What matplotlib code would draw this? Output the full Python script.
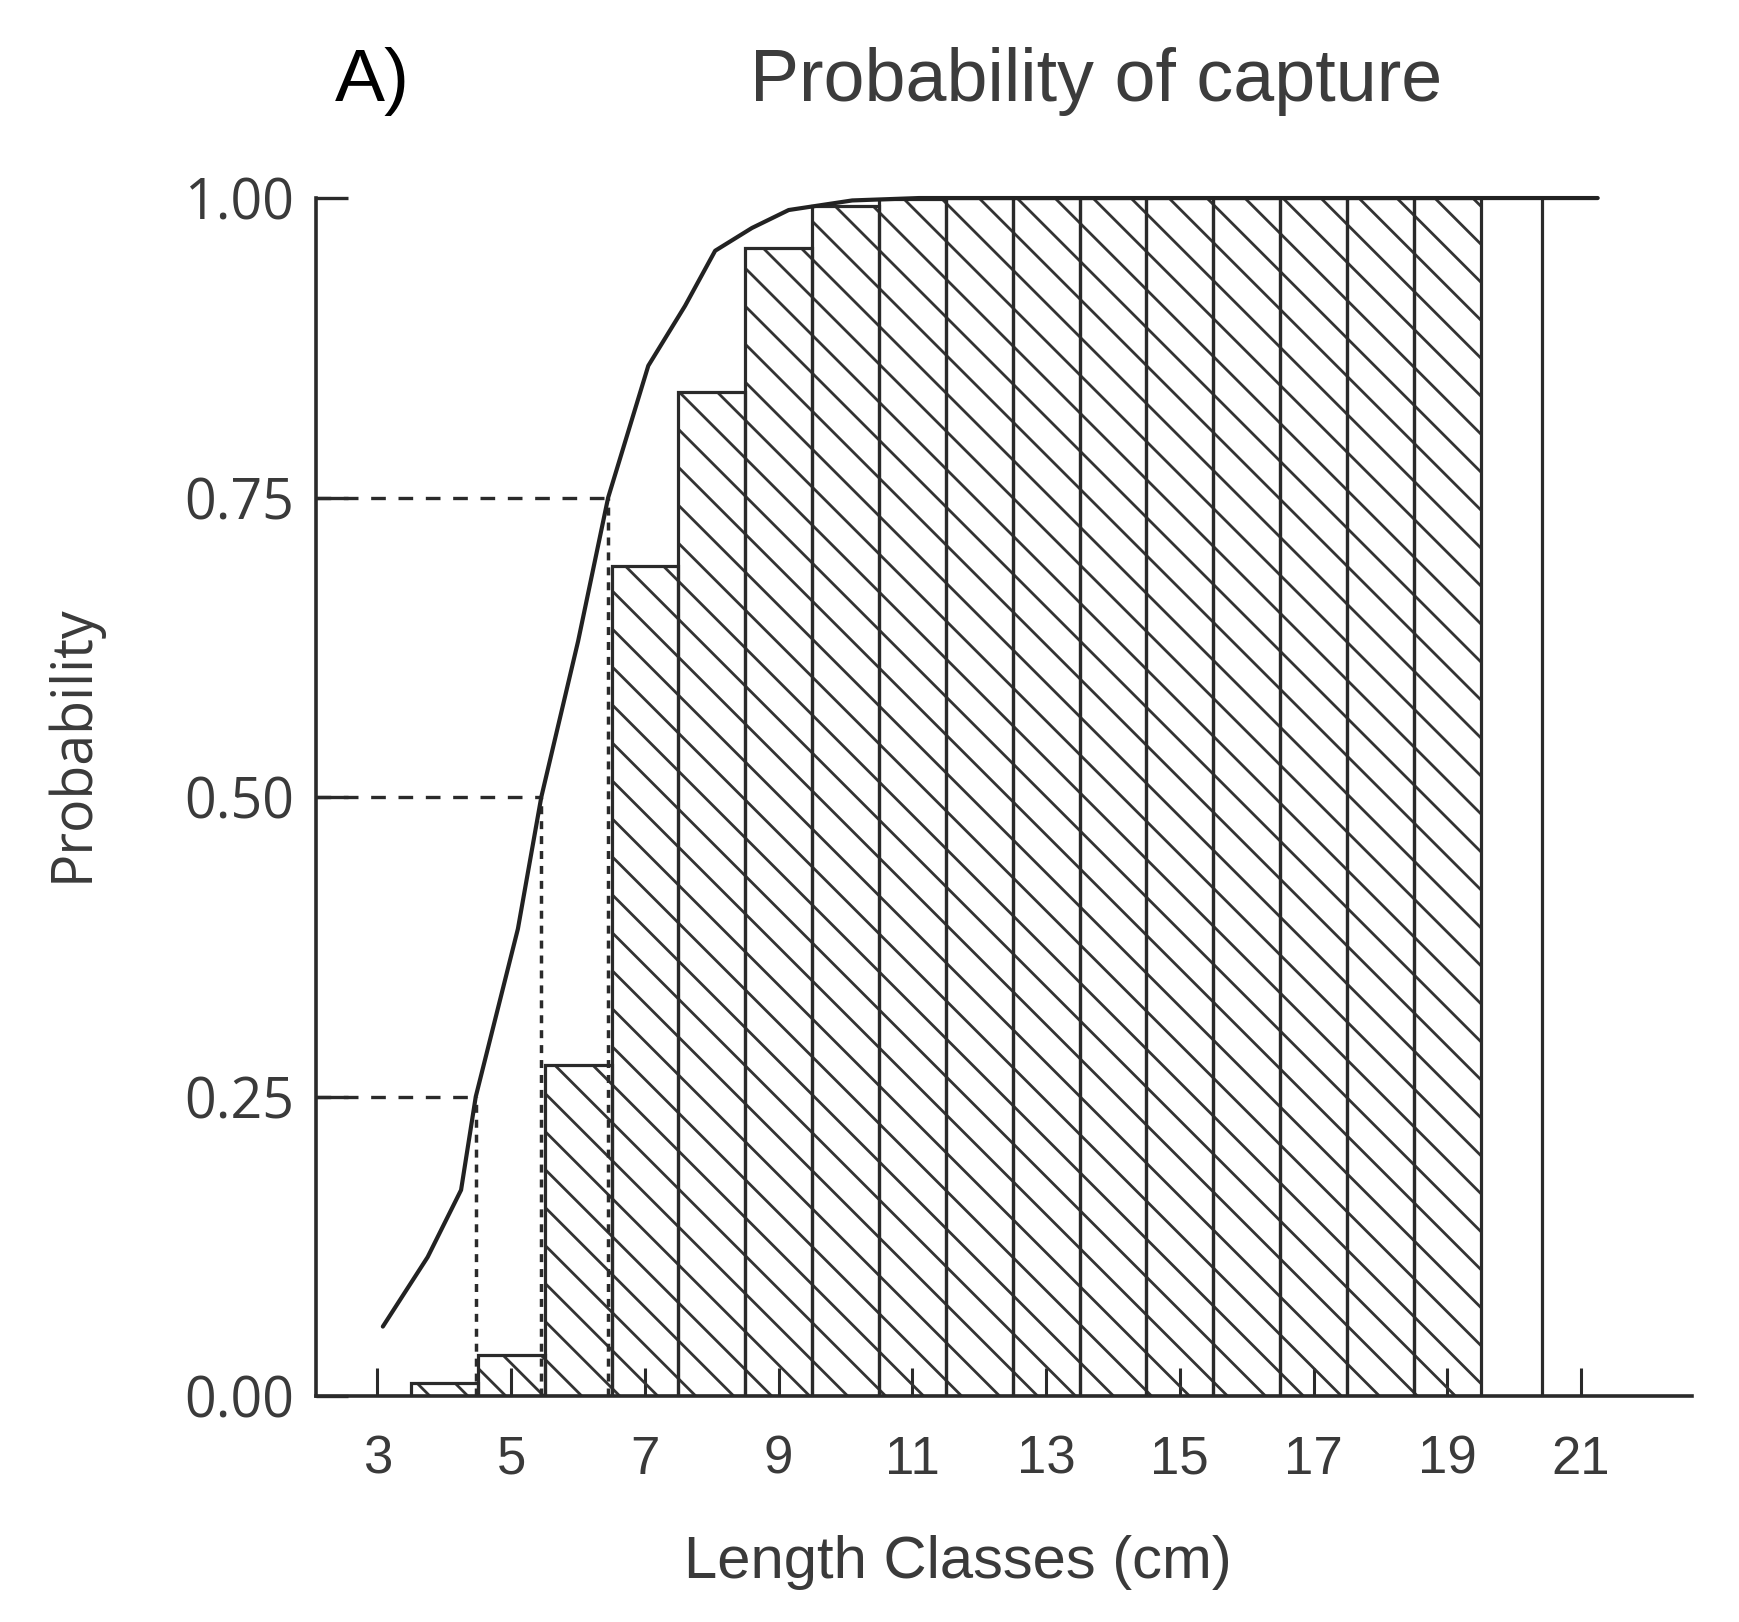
import numpy as np
import matplotlib.pyplot as plt
from matplotlib.collections import LineCollection

# values
length_classes = [4, 5, 6, 7, 8, 9, 10, 11, 12, 13, 14, 15, 16, 17, 18, 19]
observed_prob = [0.011, 0.034, 0.276, 0.693, 0.838, 0.958, 0.993, 0.999,
                 1.0, 1.0, 1.0, 1.0, 1.0, 1.0, 1.0, 1.0]

# fitted selection curve
curve_x = [3.08, 3.75, 4.25, 4.47, 5.1, 5.45, 6.0, 6.45, 7.05, 7.6, 8.05,
           8.6, 9.15, 10.1, 11.1, 21.25]
curve_y = [0.058, 0.116, 0.172, 0.25, 0.39, 0.50, 0.63, 0.75, 0.86, 0.91,
           0.956, 0.975, 0.99, 0.998, 1.0, 1.0]

# L25, L50, L75
ref_levels = [0.25, 0.50, 0.75]
ref_lengths = [4.47, 5.45, 6.45]

# last (open) class, only its right edge is drawn
open_class_edge = 20.42

xticks = [3, 5, 7, 9, 11, 13, 15, 17, 19, 21]
yticks = [0.0, 0.25, 0.50, 0.75, 1.0]
ytick_labels = ["0.00", "0.25", "0.50", "0.75", "1.00"]

line_col = "#2a2a2a"
text_col = "#3a3a3a"

plt.rcParams["font.family"] = ["Liberation Sans", "DejaVu Sans"]

fig = plt.figure(figsize=(17.4, 16.22), dpi=100)
ax = fig.add_axes([0.1816, 0.1393, 0.7908, 0.7386])
x0, x1 = 2.08, 22.66
ax.set_xlim(x0, x1)
ax.set_ylim(0, 1)

# bars (outline only, hatch drawn by hand so the angle matches)
bars = ax.bar(length_classes, observed_prob, width=1.0, facecolor="none",
              edgecolor=line_col, linewidth=2.3, zorder=3)

# 45 degree hatch in screen space
slope = -0.0558
offsets = np.arange(0.0, 2.2, 0.0317)
segs = [[(x0, c), (x1, c + slope * (x1 - x0))] for c in offsets]
for b in bars:
    lc = LineCollection(segs, colors="#333333", linewidths=2.0, zorder=2)
    ax.add_collection(lc)
    lc.set_clip_path(b)

ax.vlines(open_class_edge, 0, 1, color=line_col, linewidth=2.3, zorder=3)

# reference lines
for lvl, xx in zip(ref_levels, ref_lengths):
    ax.plot([x0, xx], [lvl, lvl], color=line_col, linewidth=2.4,
            dashes=(4.4, 3.8), zorder=4)
    ax.plot([xx, xx], [0, lvl], color=line_col, linewidth=2.5,
            dashes=(2.3, 2.0), zorder=4)

ax.plot(curve_x, curve_y, color="#222222", linewidth=3.0, zorder=5,
        clip_on=False, solid_capstyle="round", solid_joinstyle="round")

for s in ["top", "right"]:
    ax.spines[s].set_visible(False)
for s in ["left", "bottom"]:
    ax.spines[s].set_linewidth(2.6)
    ax.spines[s].set_color(line_col)

ax.set_xticks(xticks)
ax.set_xticklabels([str(t) for t in xticks])
ax.set_yticks(yticks)
ax.set_yticklabels(ytick_labels)
ax.tick_params(axis="x", direction="in", length=20, width=2.2, pad=28,
               labelsize=38, color=line_col, labelcolor=text_col)
ax.tick_params(axis="y", direction="in", length=23, width=2.4, pad=16,
               labelsize=40, color=line_col, labelcolor=text_col)
for lbl in ax.get_yticklabels():
    lbl.set_fontfamily("Open Sans")

W, H = 1740, 1622
fig.text(72.5 / W, 1 - 743 / H, "Probability", rotation=90, ha="center",
         va="center", fontsize=40, family="Open Sans", color=text_col)
fig.text(958 / W, 1 - 1578 / H, "Length Classes (cm)", ha="center",
         va="baseline", fontsize=43, color=text_col)
fig.text(1096 / W, 1 - 101 / H, "Probability of capture", ha="center",
         va="baseline", fontsize=53, color="#3c3c3c")
fig.text(372 / W, 1 - 101 / H, "A)", ha="center", va="baseline",
         fontsize=54, color="black")

fig.savefig("out.png", dpi=100, facecolor="white")
